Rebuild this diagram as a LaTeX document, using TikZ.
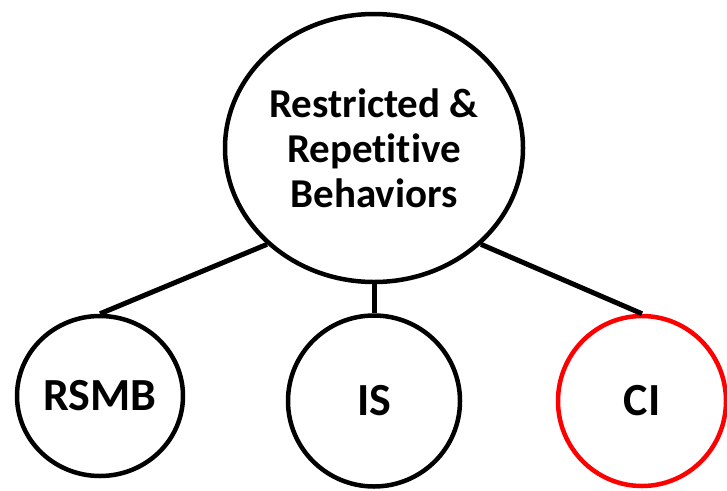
\documentclass[tikz,border=0pt]{standalone}
\usepackage{fontspec}
\newfontfamily\labelfont{Carlito}[Ligatures=NoCommon]
\usetikzlibrary{shapes.geometric}

\begin{document}
\begin{tikzpicture}[x=1pt,y=-1pt,line width=4.5pt,main node/.style={ellipse,draw,inner sep=0pt,align=center,font=\labelfont\bfseries\fontsize{41}{45}\selectfont},leaf node/.style={main node,font=\labelfont\bfseries\fontsize{46}{50}\selectfont}]

                \useasboundingbox (0,0) rectangle (727,490);

                \node[main node, minimum width=298, minimum height=268] (rrb) at (374,148) {Restricted \&\\Repetitive\\Behaviors};

                \node[leaf node, minimum width=166, minimum height=160] (rsmb) at (100,396) {RSMB};
                \node[leaf node, minimum width=172, minimum height=171] (is) at (374,401) {IS};
                \node[leaf node, minimum width=168, minimum height=170, draw=red] (ci) at (642,401) {CI};

                \path[line width=5pt]
                    (rrb.222) edge (rsmb.north)
                    (rrb.south) edge (is.north)
                    (rrb.318) edge (ci.north)
                ;

            \end{tikzpicture}
\end{document}
